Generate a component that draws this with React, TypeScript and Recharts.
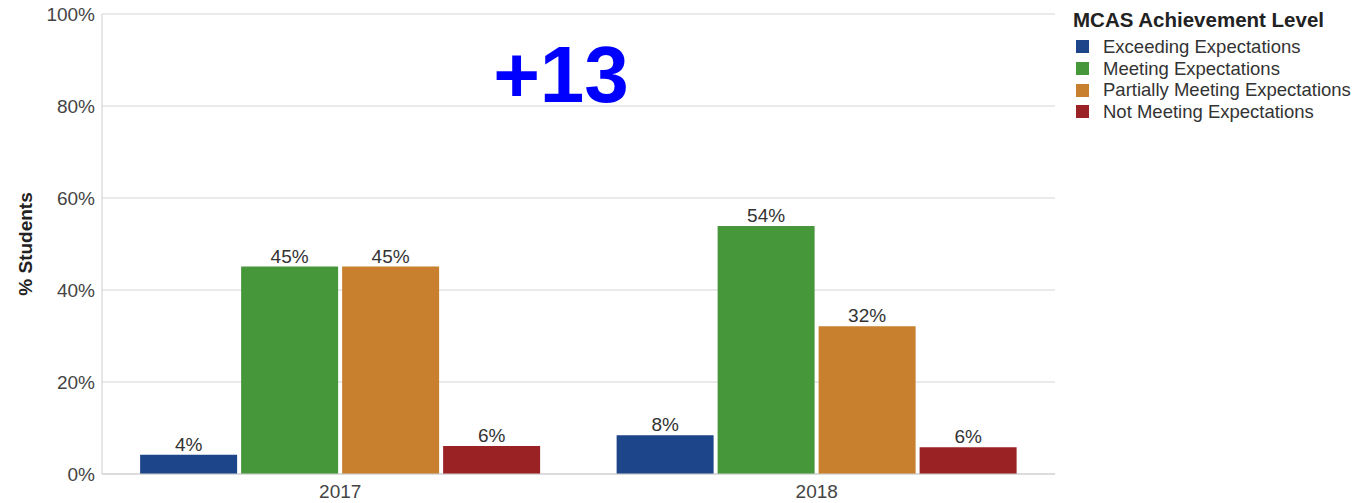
import { Bar, BarChart, CartesianGrid, LabelList, Legend, XAxis, YAxis } from "recharts";

const years = ["2017", "2018"];
const exceeding = [4.2, 8.4];
const meeting = [45.1, 53.9];
const partially = [45.1, 32.1];
const notMeeting = [6.1, 5.8];
const yTicks = [0, 20, 40, 60, 80, 100];

const series = [
  { key: "exceeding", name: "Exceeding Expectations", color: "#1d4589" },
  { key: "meeting", name: "Meeting Expectations", color: "#46963a" },
  { key: "partially", name: "Partially Meeting Expectations", color: "#c8802f" },
  { key: "notMeeting", name: "Not Meeting Expectations", color: "#9a2124" },
];

const data = years.map((year, i) => ({
  year,
  exceeding: exceeding[i],
  meeting: meeting[i],
  partially: partially[i],
  notMeeting: notMeeting[i],
}));

const FONT = '"Liberation Sans", Arial, sans-serif';
const tick = { fill: "#444", fontSize: 19, fontFamily: FONT };

function renderLegend() {
  return (
    <div style={{ fontFamily: FONT, color: "#333", textAlign: "left" }}>
      <div style={{ fontWeight: "bold", fontSize: 20.5, color: "#222", lineHeight: "24px", marginBottom: 4 }}>
        MCAS Achievement Level
      </div>
      {series.map((s) => (
        <div key={s.key} style={{ display: "flex", alignItems: "center", height: 21.7, fontSize: 18.5 }}>
          <span style={{ width: 13, height: 13, background: s.color, marginLeft: 3, marginRight: 14 }} />
          <span>{s.name}</span>
        </div>
      ))}
    </div>
  );
}

export default function App() {
  return (
    <div style={{ position: "absolute", left: 0, top: 0, width: 1365, height: 503, background: "#fff" }}>
      <BarChart
        width={1365}
        height={503}
        data={data}
        margin={{ top: 14, right: 18, bottom: 0, left: 0 }}
        barCategoryGap="8%"
        barGap={4}
      >
        <CartesianGrid vertical={false} stroke="#d4d4d4" />
        <XAxis
          dataKey="year"
          tick={tick}
          tickLine={false}
          tickSize={0}
          tickMargin={11}
          axisLine={{ stroke: "#cfcfcf" }}
          height={29}
        />
        <YAxis
          domain={[0, 100]}
          ticks={yTicks}
          tickFormatter={(v) => `${v}%`}
          tick={tick}
          tickLine={false}
          tickSize={0}
          tickMargin={7}
          axisLine={{ stroke: "#cfcfcf" }}
          width={102}
          label={{
            content: (props: any) => {
              const vb = props.viewBox;
              const cy = vb.y + vb.height / 2;
              return (
                <text
                  x={25}
                  y={cy}
                  transform={`rotate(-90, 25, ${cy})`}
                  textAnchor="middle"
                  dominantBaseline="central"
                  fontFamily={FONT}
                  fontWeight="bold"
                  fontSize={19}
                  fill="#222"
                >
                  % Students
                </text>
              );
            },
          }}
        />
        <Legend
          layout="vertical"
          align="right"
          verticalAlign="top"
          content={renderLegend}
          wrapperStyle={{ position: "absolute", left: 1073, top: 8, width: 292 }}
        />
        {series.map((s) => (
          <Bar key={s.key} dataKey={s.key} name={s.name} fill={s.color} isAnimationActive={false}>
            <LabelList
              dataKey={s.key}
              position="top"
              offset={4}
              formatter={(v: any) => `${Math.round(Number(v))}%`}
              fill="#333"
              fontSize={19}
              fontFamily={FONT}
            />
          </Bar>
        ))}
      </BarChart>
      <div
        style={{
          position: "absolute",
          left: 461,
          top: 35,
          width: 200,
          textAlign: "center",
          fontFamily: FONT,
          fontWeight: "bold",
          fontSize: 80,
          lineHeight: "80px",
          color: "#0000ff",
        }}
      >
        +13
      </div>
    </div>
  );
}
